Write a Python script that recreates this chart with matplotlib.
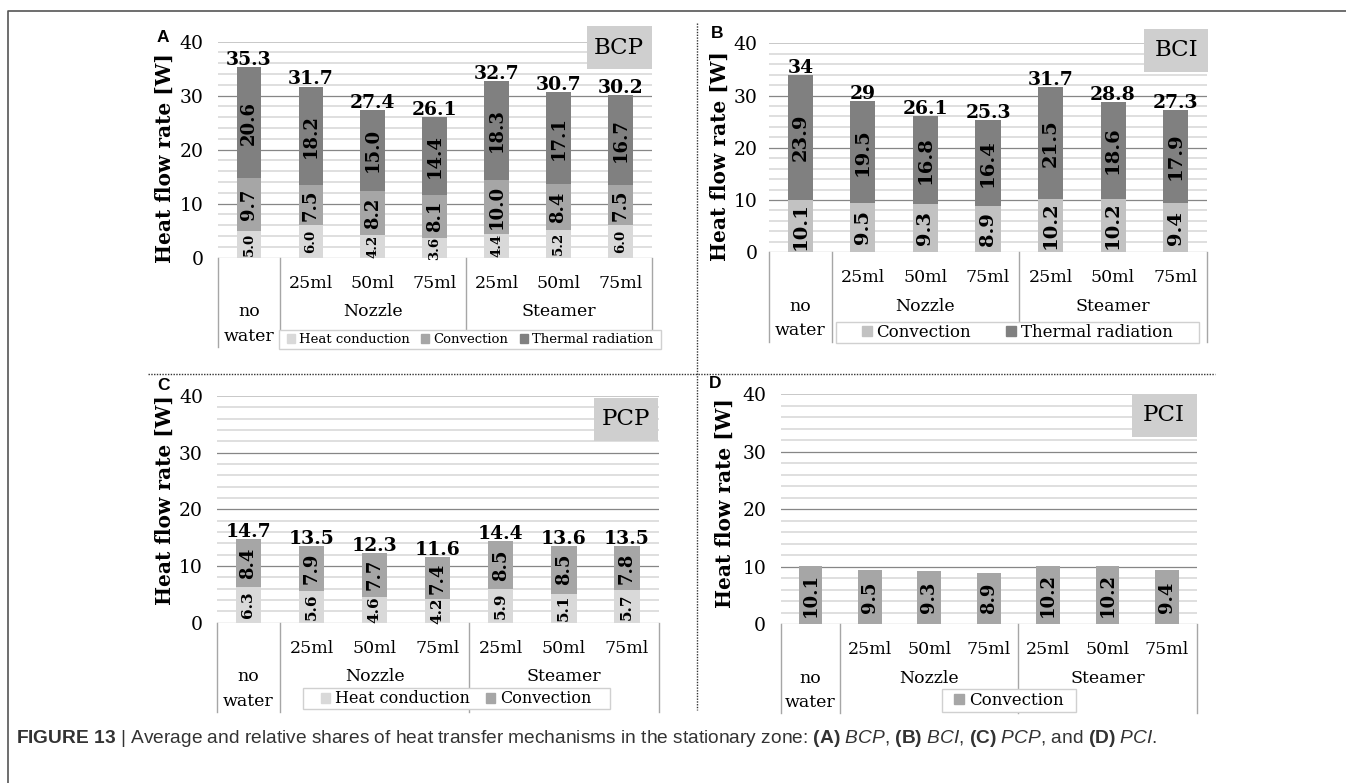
import matplotlib
matplotlib.use("Agg")
import matplotlib.pyplot as plt
import matplotlib.transforms as mtransforms
from matplotlib.patches import Rectangle, Patch
from matplotlib.lines import Line2D

plt.rcParams["font.family"] = "DejaVu Serif"
plt.rcParams["mathtext.fontset"] = "custom"
plt.rcParams["mathtext.rm"] = "Liberation Sans"
plt.rcParams["mathtext.bf"] = "Liberation Sans:bold"
plt.rcParams["mathtext.it"] = "Liberation Sans:italic"

# ---- data ----
sizes = ["25ml", "50ml", "75ml", "25ml", "50ml", "75ml"]
groups = ["Nozzle", "Steamer"]
first_cat = ["no", "water"]

bcp_cond = [5.0, 6.0, 4.2, 3.6, 4.4, 5.2, 6.0]
bcp_conv = [9.7, 7.5, 8.2, 8.1, 10.0, 8.4, 7.5]
bcp_rad = [20.6, 18.2, 15.0, 14.4, 18.3, 17.1, 16.7]
bcp_total = [35.3, 31.7, 27.4, 26.1, 32.7, 30.7, 30.2]

bci_conv = [10.1, 9.5, 9.3, 8.9, 10.2, 10.2, 9.4]
bci_rad = [23.9, 19.5, 16.8, 16.4, 21.5, 18.6, 17.9]
bci_total = [34, 29, 26.1, 25.3, 31.7, 28.8, 27.3]

pcp_cond = [6.3, 5.6, 4.6, 4.2, 5.9, 5.1, 5.7]
pcp_conv = [8.4, 7.9, 7.7, 7.4, 8.5, 8.5, 7.8]
pcp_total = [14.7, 13.5, 12.3, 11.6, 14.4, 13.6, 13.5]

pci_conv = [10.1, 9.5, 9.3, 8.9, 10.2, 10.2, 9.4]

C_COND = "#d9d9d9"
C_CONV = "#a6a6a6"
C_CONV_B = "#c2c2c2"
C_RAD = "#808080"

W, H = 1346, 783
fig = plt.figure(figsize=(W / 100, H / 100), dpi=100)


def fx(px):
    return px / W


def fy(py):
    return 1 - py / H


# layout in pixels: axes (left, right, top, bottom), table bottom, legend box, title box, letter, ylabel
panels = [
    dict(letter="A", title="BCP",
         series=[("Heat conduction", bcp_cond, C_COND, 9.5), ("Convection", bcp_conv, C_CONV, 13),
                 ("Thermal radiation", bcp_rad, C_RAD, 13)],
         totals=bcp_total, ax=(218, 651.5, 41.7, 257.7), tb=346.7,
         leg=(279.3, 660.7, 330, 349.3), legfs=9.5, colsp=0.9,
         tbox=(586.7, 651.7, 26, 69), let=(163, 37), ylab=(165, 158), pad=10.5),
    dict(letter="B", title="BCI",
         series=[("Convection", bci_conv, C_CONV_B, 14), ("Thermal radiation", bci_rad, C_RAD, 14)],
         totals=bci_total, ax=(769.2, 1206.8, 43.3, 252.3), tb=341.7,
         leg=(836, 1198.6, 321.7, 342.7), legfs=12, colsp=2.1,
         tbox=(1144.2, 1208, 29.3, 71.7), let=(717, 34), ylab=(720, 156), pad=8.5),
    dict(letter="C", title="PCP",
         series=[("Heat conduction", pcp_cond, C_COND, 11), ("Convection", pcp_conv, C_CONV, 13)],
         totals=pcp_total, ax=(216.8, 658.6, 396, 622.7), tb=711.7,
         leg=(302.5, 609.6, 688.3, 709.3), legfs=11.5, colsp=1.0,
         tbox=(593.6, 657.9, 398, 440.7), let=(163, 386), ylab=(165, 500), pad=10),
    dict(letter="D", title="PCI",
         series=[("Convection", pci_conv, C_CONV, 13)],
         totals=None, ax=(780.8, 1196.5, 394, 624.3), tb=713.3,
         leg=(942.3, 1075.8, 689.3, 711.7), legfs=12, colsp=1.0,
         tbox=(1131.8, 1196.5, 393.5, 437.3), let=(715, 383), ylab=(725, 503), pad=10.5),
]

x = list(range(7))

for p in panels:
    l, r, t, b = p["ax"]
    ax = fig.add_axes([fx(l), fy(b), (r - l) / W, (b - t) / H])
    ax.set_xlim(-0.5, 6.5)
    ax.set_ylim(0, 40)
    for s in ax.spines.values():
        s.set_visible(False)
    ax.set_xticks([])
    ax.set_yticks([0, 10, 20, 30, 40])
    ax.set_yticks(range(0, 41, 2), minor=True)
    ax.tick_params(axis="y", which="both", length=0, pad=p["pad"], labelsize=13.5)
    ax.grid(axis="y", which="minor", color="#d9d9d9", lw=1.2)
    ax.grid(axis="y", which="major", color="#868686", lw=0.9)
    ax.set_axisbelow(True)
    mt = ax.yaxis.get_major_ticks()
    mt[-1].gridline.set_color("#c4c4c4")
    mt[-1].gridline.set_linewidth(1.3)
    mt[0].gridline.set_color("#a6a6a6")

    bottom = [0.0] * 7
    for name, vals, col, fs in p["series"]:
        ax.bar(x, vals, width=0.4, bottom=bottom, color=col, zorder=3)
        for i, v in enumerate(vals):
            ax.text(i, bottom[i] + v / 2, f"{v:.1f}", rotation=90, ha="center", va="center",
                    fontsize=fs, fontweight="bold", zorder=4)
        bottom = [bb + v for bb, v in zip(bottom, vals)]

    if p["totals"] is not None:
        for i, tv in enumerate(p["totals"]):
            ax.annotate(f"{tv:g}", (i, tv), xytext=(0, 1.5), textcoords="offset points",
                        ha="center", va="baseline", fontsize=13.5, fontweight="bold", zorder=5)

    # category table under the axis
    tb_frac = -(p["tb"] - b) / (b - t)
    trans = mtransforms.blended_transform_factory(ax.transData, ax.transAxes)
    for xv in [-0.5, 0.5, 3.5, 6.5]:
        ax.plot([xv, xv], [0, tb_frac], transform=trans, color="#a6a6a6", lw=1, clip_on=False)
    tf = mtransforms.blended_transform_factory(ax.transData, fig.transFigure)
    for i, s in enumerate(sizes):
        ax.text(i + 1, fy(b + 25.6), s, transform=tf, ha="center", va="center", fontsize=12.5)
    ax.text(2, fy(b + 54), groups[0], transform=tf, ha="center", va="center", fontsize=12.5)
    ax.text(5, fy(b + 54), groups[1], transform=tf, ha="center", va="center", fontsize=12.5)
    ax.text(0, fy(b + 54), first_cat[0], transform=tf, ha="center", va="center", fontsize=12.5)
    ax.text(0, fy(b + 78.5), first_cat[1], transform=tf, ha="center", va="center", fontsize=12.5)

    # legend box
    lx0, lx1, ly0, ly1 = p["leg"]
    fig.add_artist(Rectangle((fx(lx0), fy(ly1)), (lx1 - lx0) / W, (ly1 - ly0) / H,
                             transform=fig.transFigure, fc="white", ec="#d0d0d0", lw=1, zorder=4))
    handles = [Patch(color=col, label=name) for name, vals, col, fs in p["series"]]
    fig.legend(handles=handles, loc="center", bbox_to_anchor=(fx((lx0 + lx1) / 2), fy((ly0 + ly1) / 2)),
               bbox_transform=fig.transFigure, ncol=len(handles), frameon=False, fontsize=p["legfs"],
               handlelength=0.6, handleheight=0.6, handletextpad=0.3, columnspacing=p["colsp"],
               borderpad=0, borderaxespad=0)

    # title box
    bx0, bx1, by0, by1 = p["tbox"]
    fig.add_artist(Rectangle((fx(bx0), fy(by1)), (bx1 - bx0) / W, (by1 - by0) / H,
                             transform=fig.transFigure, fc="#cfcfcf", ec="none", zorder=2))
    fig.text(fx((bx0 + bx1) / 2), fy((by0 + by1) / 2), p["title"], ha="center", va="center",
             fontsize=16.5, zorder=3)

    fig.text(fx(p["let"][0]), fy(p["let"][1]), p["letter"], ha="center", va="center",
             fontsize=12.5, fontweight="bold", family="Liberation Sans")
    fig.text(fx(p["ylab"][0]), fy(p["ylab"][1]), "Heat flow rate [W]", rotation=90,
             ha="center", va="center", fontsize=14.5, fontweight="bold")

# frame and dotted separators
fig.add_artist(Line2D([fx(8), fx(8), fx(W)], [fy(H), fy(10.7), fy(10.7)], transform=fig.transFigure,
                      color="#555555", lw=1.2))
fig.add_artist(Line2D([fx(148), fx(1215)], [fy(373.5), fy(373.5)], transform=fig.transFigure,
                      color="#333333", lw=1, linestyle=(0, (1, 1))))
fig.add_artist(Line2D([fx(696.7), fx(696.7)], [fy(23), fy(710)], transform=fig.transFigure,
                      color="#333333", lw=1, linestyle=(0, (1, 1))))

caption = (r"$\mathbf{FIGURE\ 13}$ | Average and relative shares of heat transfer mechanisms in the "
           r"stationary zone: $\mathbf{(A)}$ $\mathit{BCP}$, $\mathbf{(B)}$ $\mathit{BCI}$, "
           r"$\mathbf{(C)}$ $\mathit{PCP}$, and $\mathbf{(D)}$ $\mathit{PCI}$.")
fig.text(fx(16), fy(743), caption, ha="left", va="baseline", fontsize=13.8,
         family="Liberation Sans", color="#333333")

fig.savefig("out.png", dpi=100)
